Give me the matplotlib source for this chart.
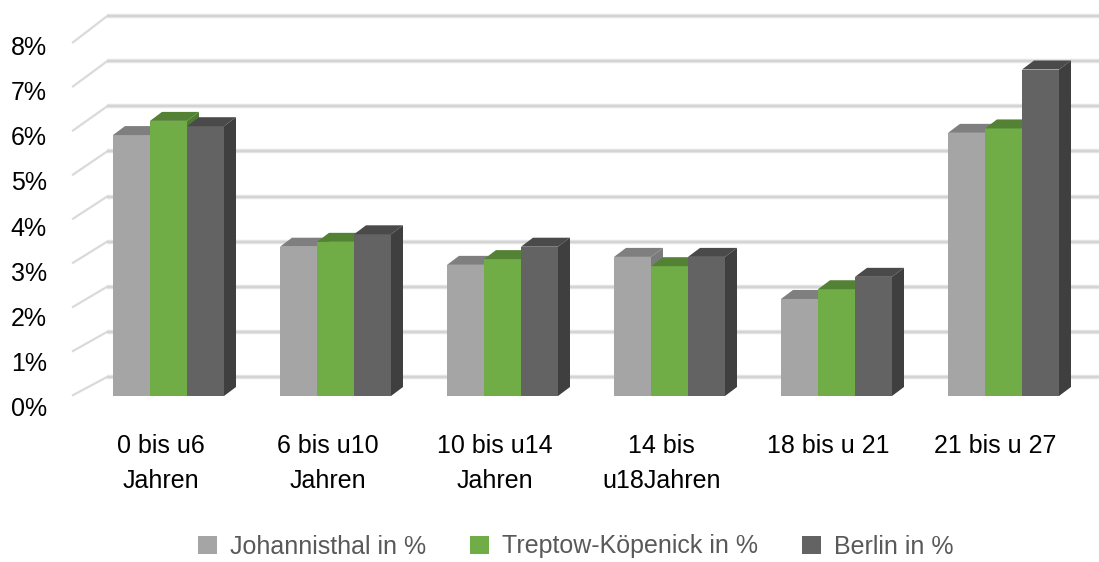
import matplotlib
matplotlib.use("Agg")
import matplotlib.pyplot as plt
from matplotlib.patches import Rectangle, Polygon, Patch

plt.rcParams['font.family'] = ['Liberation Sans', 'DejaVu Sans']

# ---------------- data ----------------
categories = ["0 bis u6\nJahren", "6 bis u10\nJahren", "10 bis u14\nJahren",
              "14 bis\nu18Jahren", "18 bis u 21", "21 bis u 27"]
series_names = ["Johannisthal in %", "Treptow-Köpenick in %", "Berlin in %"]
johannisthal = [5.89, 3.37, 2.96, 3.14, 2.19, 5.94]
treptow = [6.21, 3.48, 3.09, 2.93, 2.41, 6.04]
berlin = [6.09, 3.65, 3.37, 3.14, 2.69, 7.37]
y_ticks = [0, 1, 2, 3, 4, 5, 6, 7, 8]
y_tick_labels = ["0%", "1%", "2%", "3%", "4%", "5%", "6%", "7%", "8%"]

# ---------------- style / layout ----------------
front_cols = ['#A5A5A5', '#70AD47', '#636363']
top_cols = ['#7F7F7F', '#548235', '#4A4A4A']
side_cols = ['#7B7B7B', '#4E7D31', '#3F3F3F']

W, H = 1099, 562
PX_CAT = 167.0      # pixels per category
PX_PCT = 44.3       # pixels per percent (front plane)
X_ORIG = 168.5      # pixel x of category 0 centre
Y_ORIG = 396.0      # pixel y (from top) of 0 % on the front plane

BW = 37 / PX_CAT            # bar width
GROUP_LEFT = 55.5 / PX_CAT  # half group width
DX, DY = 12 / PX_CAT, 9 / PX_PCT          # bar depth offset
BDX, BDY = 34 / PX_CAT, 19 / PX_PCT       # back-wall offset
BSCALE = 45.1 / PX_PCT
FX = (73 - X_ORIG) / PX_CAT               # front-left edge of side wall

fig = plt.figure(figsize=(W / 100, H / 100), dpi=100)
ax = fig.add_axes([0, 0, 1, 1])
ax.set_xlim(-X_ORIG / PX_CAT, (W - X_ORIG) / PX_CAT)
ax.set_ylim((Y_ORIG - H) / PX_PCT, Y_ORIG / PX_PCT)
ax.axis('off')
x_right = (W - X_ORIG) / PX_CAT

# gridlines on back wall + side-wall stubs
for v in y_ticks:
    yb = (BDY - 0.0) + BSCALE * v
    ax.plot([FX + BDX, x_right], [yb, yb], color='#E6E6E6', lw=3.2,
            solid_capstyle='butt', zorder=1)
    ax.plot([FX + BDX, x_right], [yb, yb], color='#D4D4D4', lw=1.6,
            solid_capstyle='butt', zorder=1.1)
    yf = 0.02 + 0.9955 * v
    ax.plot([FX, FX + BDX], [yf, yb], color='#DADADA', lw=1.6, zorder=1)

# y labels
for v, lab in zip(y_ticks, y_tick_labels):
    ax.text((47 - X_ORIG) / PX_CAT, -0.451 + BSCALE * v, lab, ha='right',
            va='baseline', fontsize=18, color='#000000')

# bars
series = [johannisthal, treptow, berlin]
z = 2
for i in range(len(categories)):
    for j, vals in enumerate(series):
        h = vals[i]
        x0 = i - GROUP_LEFT + j * BW
        ax.add_patch(Rectangle((x0, 0), BW, h, facecolor=front_cols[j],
                               edgecolor='none', zorder=z))
        ax.add_patch(Polygon([(x0, h), (x0 + DX, h + DY), (x0 + BW + DX, h + DY),
                              (x0 + BW, h)], closed=True, facecolor=top_cols[j],
                             edgecolor='none', zorder=z))
        ax.add_patch(Polygon([(x0 + BW, 0), (x0 + BW + DX, DY), (x0 + BW + DX, h + DY),
                              (x0 + BW, h)], closed=True, facecolor=side_cols[j],
                             edgecolor='none', zorder=z))
        z += 1

# category labels
line_y = [(Y_ORIG - 453.3) / PX_PCT, (Y_ORIG - 488) / PX_PCT]
for i, cat in enumerate(categories):
    for k, line in enumerate(cat.split('\n')):
        ax.text(i - 8 / PX_CAT, line_y[k], line, ha='center', va='baseline',
                fontsize=18, color='#000000')

# legend
handles = [Patch(facecolor=c, edgecolor='none') for c in front_cols]
leg = fig.legend(handles, series_names, loc='center', ncol=3,
                 bbox_to_anchor=(576 / W, 15.5 / H), frameon=False,
                 fontsize=18, handlelength=0.76, handleheight=0.76,
                 handletextpad=0.52, columnspacing=1.75, borderpad=0,
                 borderaxespad=0)
for t in leg.get_texts():
    t.set_color('#595959')

fig.savefig('out.png', dpi=100)
